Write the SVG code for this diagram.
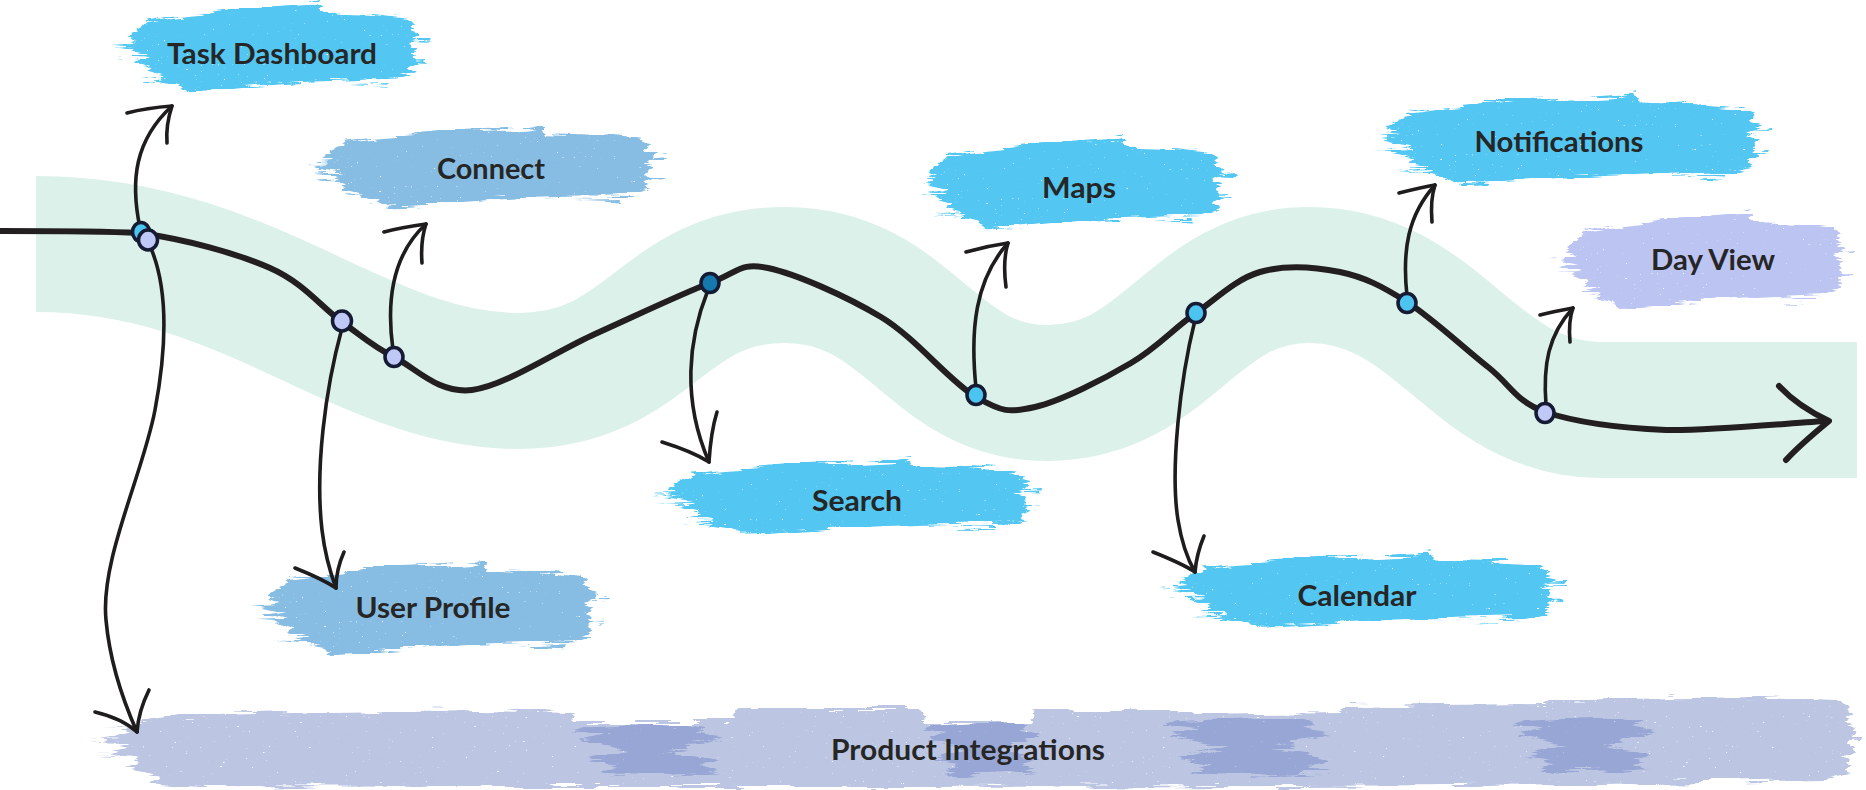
<svg xmlns="http://www.w3.org/2000/svg" xmlns:xlink="http://www.w3.org/1999/xlink" width="1866" height="790" viewBox="0 0 1866 790">
<style>
.lbl{font-family:Lato,"Open Sans","Liberation Sans",sans-serif;font-weight:700;font-size:29px;fill:#262626;text-anchor:middle}
.cn{fill:none;stroke:#1e1c1d;stroke-width:3.6;stroke-linecap:round;stroke-linejoin:round}
.main{fill:none;stroke:#231f20;stroke-width:6;stroke-linecap:round;stroke-linejoin:round}
.jn{stroke:#141b33;stroke-width:3.5}
.cy{fill:#4cc4f0}.lv{fill:#c0c8f5}.dk{fill:#1679ad}
</style>
<defs>
<filter id="rough" x="-3%" y="-15%" width="106%" height="130%">
<feTurbulence type="fractalNoise" baseFrequency="0.02 0.22" numOctaves="3" seed="3" result="n"/>
<feDisplacementMap in="SourceGraphic" in2="n" scale="14" xChannelSelector="R" yChannelSelector="G" result="d"/>
<feTurbulence type="fractalNoise" baseFrequency="0.35 0.8" numOctaves="1" seed="9" result="s"/>
<feColorMatrix in="s" type="matrix" values="0 0 0 0 0  0 0 0 0 0  0 0 0 0 0  14 0 0 0 -10.2" result="sa"/>
<feComposite in="d" in2="sa" operator="out"/>
</filter>
<symbol id="brush" viewBox="0 0 400 100" preserveAspectRatio="none">
<path d="M30,32 L45,24 L40,20 L70,16 L110,12 L150,8 L200,6 L250,3 L262,0 L268,11 L330,13 L372,17 L380,24 L376,30 L388,34 L382,40 L372,44 L384,50 L378,58 L386,64 L375,70 L382,76 L360,82 L300,84 L240,86 L180,90 L120,95 L90,96 L80,90 L60,86 L66,80 L40,74 L50,68 L30,62 L44,56 L12,50 L36,46 L20,40 Z"/>
<path d="M0,47 L40,44 L40,48 Z M8,58 L45,57 L45,60 Z M20,36 L50,33 L50,36 Z M370,40 L400,38 L398,41 Z M365,62 L396,61 L394,64 Z M30,80 L70,81 L70,84 Z M300,88 L350,87 L350,90 Z"/>
</symbol>
<symbol id="patch" viewBox="0 0 100 100" preserveAspectRatio="none">
<path d="M10,10 L40,6 L70,4 L85,12 L78,20 L95,28 L84,36 L70,40 L74,48 L60,54 L78,60 L90,70 L80,80 L92,90 L60,94 L30,96 L18,88 L28,78 L10,70 L26,60 L36,52 L22,44 L4,36 L20,26 L2,18 Z"/>
</symbol>
</defs>
<rect width="1866" height="790" fill="#ffffff"/>
<g id="band">
<path d="M36,244 C250,244 360,381 518,381 C650,381 660,275 785,275 C910,275 930,393 1047,393 C1170,393 1190,275 1309,275 C1440,275 1470,408 1600,410 L1857,410" fill="none" stroke="#dcf1ea" stroke-width="136"/>
</g>
<g id="task-dashboard">
<use xlink:href="#brush" x="112" y="3" width="317" height="92" fill="#52c7f2" filter="url(#rough)"/>
<text class="lbl" x="272" y="64" textLength="210" lengthAdjust="spacingAndGlyphs">Task Dashboard</text>
</g>
<g id="connect">
<use xlink:href="#brush" x="305" y="125" width="362" height="85" fill="#88bde3" filter="url(#rough)"/>
<text class="lbl" x="491" y="179" textLength="108" lengthAdjust="spacingAndGlyphs">Connect</text>
</g>
<g id="maps">
<use xlink:href="#brush" x="912" y="137" width="322" height="95" fill="#52c7f2" filter="url(#rough)"/>
<text class="lbl" x="1079" y="198" textLength="74" lengthAdjust="spacingAndGlyphs">Maps</text>
</g>
<g id="notifications">
<use xlink:href="#brush" x="1366" y="93" width="407" height="95" fill="#52c7f2" filter="url(#rough)"/>
<text class="lbl" x="1559" y="152" textLength="169" lengthAdjust="spacingAndGlyphs">Notifications</text>
</g>
<g id="day-view">
<use xlink:href="#brush" x="1551" y="212" width="304" height="100" fill="#bcc5f2" filter="url(#rough)"/>
<text class="lbl" x="1713" y="270" textLength="124" lengthAdjust="spacingAndGlyphs">Day View</text>
</g>
<g id="search">
<use xlink:href="#brush" x="650" y="458" width="392" height="79" fill="#52c7f2" filter="url(#rough)"/>
<text class="lbl" x="857" y="511" textLength="90" lengthAdjust="spacingAndGlyphs">Search</text>
</g>
<g id="user-profile">
<use xlink:href="#brush" x="250" y="560" width="358" height="98" fill="#88bde3" filter="url(#rough)"/>
<text class="lbl" x="433" y="618" textLength="155" lengthAdjust="spacingAndGlyphs">User Profile</text>
</g>
<g id="calendar">
<use xlink:href="#brush" x="1160" y="552" width="408" height="78" fill="#52c7f2" filter="url(#rough)"/>
<text class="lbl" x="1357" y="606" textLength="119" lengthAdjust="spacingAndGlyphs">Calendar</text>
</g>
<g id="product-integrations">
<path filter="url(#rough)" fill="#bcc6e3" d="M119,735 L140,722 L180,716 L330,712 L480,710 L571,712 L575,722 L730,722 L735,708 L920,708 L925,722 L1030,722 L1032,710 L1190,710 L1195,715 L1340,713 L1345,706 L1545,704 L1550,700 L1760,697 L1840,700 L1852,712 L1845,722 L1857,730 L1848,742 L1855,752 L1845,762 L1850,772 L1820,780 L1600,784 L1300,786 L900,787 L500,787 L200,786 L150,782 L160,776 L128,768 L140,760 L110,752 L130,746 L105,740 Z M89,742 L135,739 L135,743 Z M95,756 L140,755 L140,758 Z M100,728 L150,726 L150,729 Z M1820,738 L1862,736 L1862,739 Z"/>
<use xlink:href="#patch" x="571" y="722" width="161" height="56" fill="#97a6d4" filter="url(#rough)"/>
<use xlink:href="#patch" x="922" y="720" width="125" height="58" fill="#97a6d4" filter="url(#rough)"/>
<use xlink:href="#patch" x="1160" y="715" width="185" height="63" fill="#97a6d4" filter="url(#rough)"/>
<use xlink:href="#patch" x="1511" y="715" width="155" height="60" fill="#97a6d4" filter="url(#rough)"/>
<text class="lbl" x="968" y="760" textLength="274" lengthAdjust="spacingAndGlyphs">Product Integrations</text>
</g>
<g id="connectors">
<path class="main" d="M0,231 C50,231 100,231 139,233 C184,239 236,253 270,268 C304,283 321,307 342,322 C363,337 372,346 394,357 C416,368 438,394 472,390 C505,386 555,352 595,334 C635,316 681,294 710,283 C739,272 740,262 768,268 C796,274 846,296 881,317 C916,338 950,382 976,397 C1002,412 1009,413 1035,407 C1061,401 1104,379 1131,363 C1158,347 1174,328 1196,313 C1217,298 1236,279 1260,272 C1284,265 1315,267 1340,272 C1364,277 1382,286 1407,302 C1432,318 1465,349 1488,367 C1511,385 1515,401 1545,412 C1575,422 1619,428 1666,430 C1713,431 1800,422 1827,421"/>
<path class="main" d="M1779,386 C1792,400 1810,412 1829,421 C1812,435 1797,448 1786,460"/>
<path class="cn" d="M140,228 C130,180 135,140 172,106"/>
<path class="cn" d="M127,113 C142,109 158,107 172,106 C168,118 166,130 167,143"/>
<path class="cn" d="M150,246 C165,280 170,330 155,410 C143,474 100,560 106,620 C110,665 125,705 137,732"/>
<path class="cn" d="M95,712 C112,716 126,722 137,732 C138,718 142,704 149,690"/>
<path class="cn" d="M342,328 C325,390 315,470 322,530 C325,555 330,572 336,588"/>
<path class="cn" d="M295,568 C310,574 324,580 336,588 C336,575 339,563 344,552"/>
<path class="cn" d="M393,350 C386,300 392,255 426,224"/>
<path class="cn" d="M384,232 C398,228 412,226 426,224 C422,236 421,250 422,263"/>
<path class="cn" d="M708,290 C688,340 682,400 709,462"/>
<path class="cn" d="M662,442 C678,447 695,453 709,462 C710,446 712,428 717,412"/>
<path class="cn" d="M976,388 C970,330 975,280 1008,243"/>
<path class="cn" d="M966,252 C980,248 994,245 1008,243 C1004,256 1004,272 1006,287"/>
<path class="cn" d="M1195,320 C1180,380 1170,470 1178,520 C1182,545 1188,560 1195,572"/>
<path class="cn" d="M1153,552 C1168,558 1183,564 1195,572 C1196,560 1199,548 1204,536"/>
<path class="cn" d="M1407,296 C1402,250 1408,215 1435,185"/>
<path class="cn" d="M1399,193 C1411,190 1423,187 1435,185 C1431,197 1431,210 1432,222"/>
<path class="cn" d="M1546,405 C1543,365 1548,335 1573,308"/>
<path class="cn" d="M1540,315 C1551,312 1562,310 1573,308 C1569,319 1569,331 1570,342"/>
</g>
<g id="junctions">
<ellipse class="jn cy" cx="141" cy="232" rx="8.5" ry="9.5"/>
<ellipse class="jn lv" cx="148" cy="240" rx="9.5" ry="10"/>
<ellipse class="jn lv" cx="342" cy="321" rx="9.5" ry="10"/>
<ellipse class="jn lv" cx="394" cy="357" rx="9" ry="9.5"/>
<ellipse class="jn dk" cx="710" cy="283" rx="9" ry="9.5"/>
<ellipse class="jn cy" cx="976" cy="395" rx="9" ry="9.5"/>
<ellipse class="jn cy" cx="1196" cy="313" rx="9" ry="9.5"/>
<ellipse class="jn cy" cx="1407" cy="303" rx="9" ry="9.5"/>
<ellipse class="jn lv" cx="1545" cy="413" rx="9" ry="9.5"/>
</g>
</svg>
